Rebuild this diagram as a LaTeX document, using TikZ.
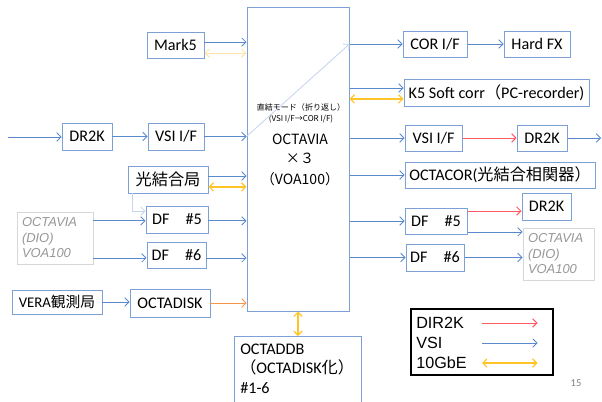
\documentclass[tikz,border=0pt]{standalone}
\usepackage{fontspec}
\setmainfont{Carlito}
\newfontfamily\jpfont{Noto Sans CJK JP}
\newfontfamily\arialfont{Liberation Sans}
\usetikzlibrary{arrows.meta, calc, positioning}
\definecolor{VsiBlue}{RGB}{91,137,205}
\definecolor{BoxBlue}{RGB}{125,160,215}
\definecolor{GbeYellow}{RGB}{255,196,40}
\definecolor{PaleYellow}{RGB}{255,228,165}
\definecolor{DiskOrange}{RGB}{247,150,70}
\definecolor{DirRed}{RGB}{255,90,100}
\definecolor{FaintBlue}{RGB}{198,212,236}
\definecolor{DioGray}{RGB}{215,215,215}
\definecolor{DioText}{RGB}{150,150,150}
\newcommand{\pxu}{0.025cm}

\begin{document}
\begin{tikzpicture}[x=0.025cm, y=-0.025cm,
    box/.style={draw=BoxBlue, line width=0.7pt, inner sep=0pt, font=\fontsize{11.5}{14}\selectfont},
    sz/.style 2 args={minimum width=#1*\pxu, minimum height=#2*\pxu},
    dio/.style={draw=DioGray, line width=0.7pt, text=DioText, align=left, inner ysep=0pt, inner xsep=5*\pxu,
        text width=66*\pxu, font=\arialfont\itshape\fontsize{9.2}{11}\selectfont},
    tip/.tip={Straight Barb[length=3pt, width=6pt]},
    vsi/.style={draw=VsiBlue, line width=0.6pt, -tip},
    dir/.style={draw=DirRed, line width=0.7pt, -tip},
    gbe/.style={draw=GbeYellow, line width=0.8pt, tip-tip},
    faint/.style={draw=FaintBlue, line width=0.6pt, -tip}]

    \useasboundingbox (0,0) rectangle (602,401);

    %OCTAVIA
    \node[box, sz={102}{304}] (octavia) at (298,159) {};
    \node[font=\jpfont\fontsize{5.7}{7}\selectfont] (modeA) at (301,107) {直結モード（折り返し）};
    \node[font=\jpfont\fontsize{5.7}{7}\selectfont] (modeB) at (301,119) {(VSI I/F→COR I/F)};
    \node[font=\jpfont\fontsize{10}{12}\selectfont] (octTxt) at (300,139) {OCTAVIA};
    \node[font=\jpfont\fontsize{10}{12}\selectfont] (timesTxt) at (300,158) {×３};
    \node[font=\jpfont\fontsize{10}{12}\selectfont] (voaTxt) at (300,179) {（VOA100）};

    %Left
    \node[box, sz={57}{26}] (mark5) at (175.5,45) {Mark5};
    \node[box, sz={50}{27}] (dr2kL) at (87,136.5) {DR2K};
    \node[box, sz={56}{27}] (vsiL) at (176,136.5) {VSI I/F};
    \node[box, sz={80}{27}] (hikari) at (168,179.5) {\jpfont 光結合局};
    \node[dio, minimum height=52*\pxu] (dioL) at (55,238) {OCTAVIA\\(DIO)\\VOA100};
    \node[box, sz={62}{27}] (df5L) at (177,219.5) {DF\quad\#5};
    \node[box, sz={59}{26}] (df6L) at (176.5,255) {DF\quad\#6};
    \node[box, sz={90}{24}, font=\fontsize{10.5}{12}\selectfont] (vera) at (57,302) {VERA{\jpfont 観測局}};
    \node[box, sz={80}{28}] (octadisk) at (170,303) {OCTADISK};
    \coordinate (inL) at (8,137);

    \draw[vsi] ([yshift=2.1pt]mark5.east) -- ([yshift=2.1pt]mark5.east -| octavia.west);
    \draw[draw=PaleYellow, line width=0.7pt, tip-tip] ([yshift=-5.7pt]mark5.east) -- ([yshift=-5.7pt]mark5.east -| octavia.west);
    \draw[vsi] (inL) -- (inL -| dr2kL.west);
    \draw[vsi] (dr2kL) -- (vsiL);
    \draw[vsi] (vsiL.east) -- (vsiL.east -| octavia.west);
    \draw[vsi] ([yshift=2.5pt]hikari.east) -- ([yshift=2.5pt]hikari.east -| octavia.west);
    \draw[gbe] ([yshift=-5.3pt]hikari.east) -- ([yshift=-5.3pt]hikari.east -| octavia.west);
    \draw[faint] ([xshift=3.6pt]hikari.south west) |- ([yshift=6pt]df5L.west);
    \draw[vsi] ([yshift=-1pt]df5L.west -| dioL.east) -- ([yshift=-1pt]df5L.west);
    \draw[vsi] ([yshift=-2.1pt]df6L.west -| dioL.east) -- ([yshift=-2.1pt]df6L.west);
    \draw[vsi] ([yshift=-1pt]df5L.east) -- ([yshift=-1pt]df5L.east -| octavia.west);
    \draw[vsi] ([yshift=-2.1pt]df6L.east) -- ([yshift=-2.1pt]df6L.east -| octavia.west);
    \draw[vsi] (vera.east) -- (vera.east -| octadisk.west);
    \draw[draw=DiskOrange, line width=0.6pt, -tip] (octadisk.east) -- (octadisk.east -| octavia.west);

    %Bottom
    \node[inner ysep=0pt, inner xsep=6*\pxu, text width=115*\pxu, minimum height=65*\pxu, align=left,
        anchor=north west, font=\fontsize{11.5}{14.2}\selectfont] (ddb) at (234,336)
        {OCTADDB\\{\jpfont （}OCTADISK{\jpfont 化）}\\\#1-6};
    \draw[draw=BoxBlue, line width=0.7pt] (ddb.south west) -- (ddb.north west) -- (ddb.north east) -- (ddb.south east);
    \draw[gbe] (octavia.south) -- (octavia.south |- ddb.north);

    %Right
    \node[box, sz={64}{26}] (corif) at (435,44) {COR I/F};
    \node[box, sz={66}{26}] (hardfx) at (537,44) {Hard FX};
    \node[box, sz={185}{27}] (k5) at (496.5,92.5) {K5 Soft corr{\jpfont （}PC-recorder)};
    \node[box, sz={57}{26}] (vsiR) at (433.5,138) {VSI I/F};
    \node[box, sz={50}{26}] (dr2kR) at (542,138) {DR2K};
    \node[box, sz={190}{26}] (octacor) at (500,175) {OCTACOR({\jpfont 光結合相関器）}};
    \node[box, sz={62}{26}] (df5R) at (436,221) {DF\quad\#5};
    \node[box, sz={49}{27}] (dr2kR2) at (546.5,206.5) {DR2K};
    \node[box, sz={58}{27}] (df6R) at (435,257.5) {DF\quad\#6};
    \node[dio, minimum height=52*\pxu, text width=61*\pxu] (dioR) at (558.5,254) {OCTAVIA\\(DIO)\\VOA100};
    \coordinate (outR) at (601,138);

    \draw[faint] (vsiL.east -| octavia.west) -- (corif.west -| octavia.east);
    \draw[vsi] (corif.west -| octavia.east) -- (corif.west);
    \draw[vsi] (corif) -- (hardfx);
    \draw[vsi] ([yshift=3.2pt]k5.west -| octavia.east) -- ([yshift=3.2pt]k5.west);
    \draw[gbe] ([yshift=-4.6pt]k5.west -| octavia.east) -- ([yshift=-4.6pt]k5.west);
    \draw[vsi] (vsiR.west -| octavia.east) -- (vsiR.west);
    \draw[dir] (vsiR) -- (dr2kR);
    \draw[vsi] (dr2kR.east) -- (outR);
    \draw[vsi] (octacor.west -| octavia.east) -- (octacor.west);
    \draw[vsi] (df5R.west -| octavia.east) -- (df5R.west);
    \draw[dir] ([yshift=7.1pt]df5R.east) -- ([yshift=7.1pt]df5R.east -| dr2kR2.west);
    \draw[vsi] ([yshift=-7.8pt]df5R.east) -- ([yshift=-7.8pt]df5R.east -| dioR.west);
    \draw[vsi] (df6R.west -| octavia.east) -- (df6R.west);
    \draw[vsi] (df6R.east) -- (df6R.east -| dioR.west);

    %Legend
    \node[draw=black, line width=0.8pt, sz={142}{66}] (legend) at (482,342) {};
    \node[anchor=west, inner sep=0pt, font=\arialfont\fontsize{11.5}{13}\selectfont] (lgDir) at (416,323) {DIR2K};
    \node[anchor=west, inner sep=0pt, font=\arialfont\fontsize{11.5}{13}\selectfont] (lgVsi) at (416,343) {VSI};
    \node[anchor=west, inner sep=0pt, font=\arialfont\fontsize{11.5}{13}\selectfont] (lgGbe) at (416,363) {10GbE};
    \draw[dir] (lgDir -| legend.center) -- ([xshift=-11.4pt]lgDir -| legend.east);
    \draw[vsi] (lgVsi -| legend.center) -- ([xshift=-11.4pt]lgVsi -| legend.east);
    \draw[gbe] (lgGbe -| legend.center) -- ([xshift=-11.4pt]lgGbe -| legend.east);

    \node[text=gray, font=\fontsize{7.5}{9}\selectfont] (pageNo) at (576,383) {15};

\end{tikzpicture}
\end{document}
